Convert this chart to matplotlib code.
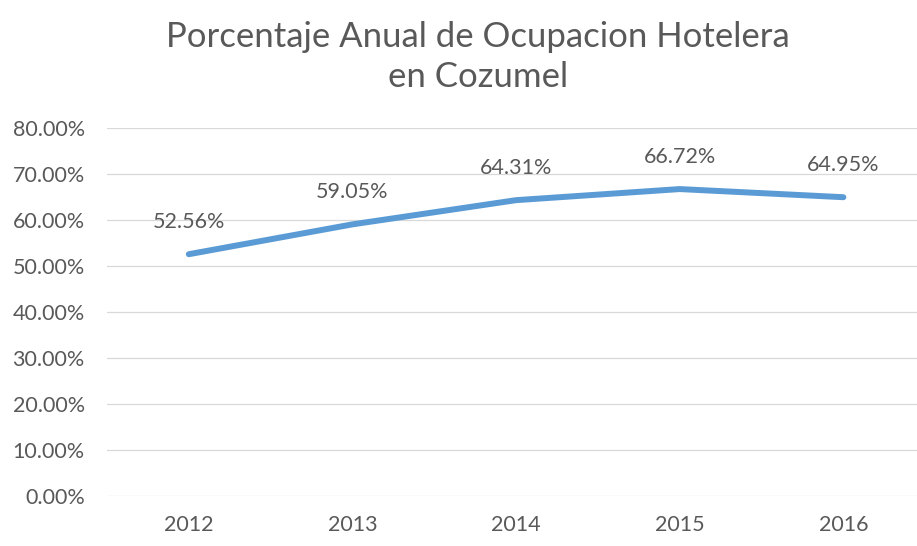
import matplotlib
matplotlib.use("Agg")
import matplotlib.pyplot as plt
from matplotlib.ticker import FuncFormatter

years = ["2012", "2013", "2014", "2015", "2016"]
ocupacion = [0.5256, 0.5905, 0.6431, 0.6672, 0.6495]
labels = ["52.56%", "59.05%", "64.31%", "66.72%", "64.95%"]
title = "Porcentaje Anual de Ocupacion Hotelera\nen Cozumel"

plt.rcParams['font.family'] = ['Lato', 'DejaVu Sans']
gray = "#595959"

fig = plt.figure(figsize=(9.17, 5.46), dpi=100)
ax = fig.add_axes([0.1167, 0.0916, 0.8833, 0.674])
x = list(range(len(years)))
ax.plot(x, ocupacion, color="#5b9bd5", linewidth=4.3, solid_capstyle="round", zorder=3)
for xi, yi, lab in zip(x, ocupacion, labels):
    ax.annotate(lab, (xi, yi), xytext=(0, 23), textcoords="offset points",
                ha="center", va="center", fontsize=15.5, color=gray)

ax.set_xlim(-0.5, 4.45)
ax.set_ylim(0, 0.8)
ax.set_yticks([i / 10 for i in range(9)])
ax.yaxis.set_major_formatter(FuncFormatter(lambda v, p: f"{v*100:.2f}%"))
ax.set_xticks(x)
ax.set_xticklabels(years)
ax.tick_params(axis="both", length=0, labelsize=15.5, labelcolor=gray)
ax.tick_params(axis="x", pad=14)
ax.tick_params(axis="y", pad=16)
ax.grid(axis="y", color="#d9d9d9", linewidth=0.9)
ax.set_axisbelow(True)
for s in ax.spines.values():
    s.set_visible(False)

fig.text(0.521, 0.895, title, ha="center", va="center", fontsize=25,
         color=gray, linespacing=1.3)

fig.savefig("out.png", dpi=100)
